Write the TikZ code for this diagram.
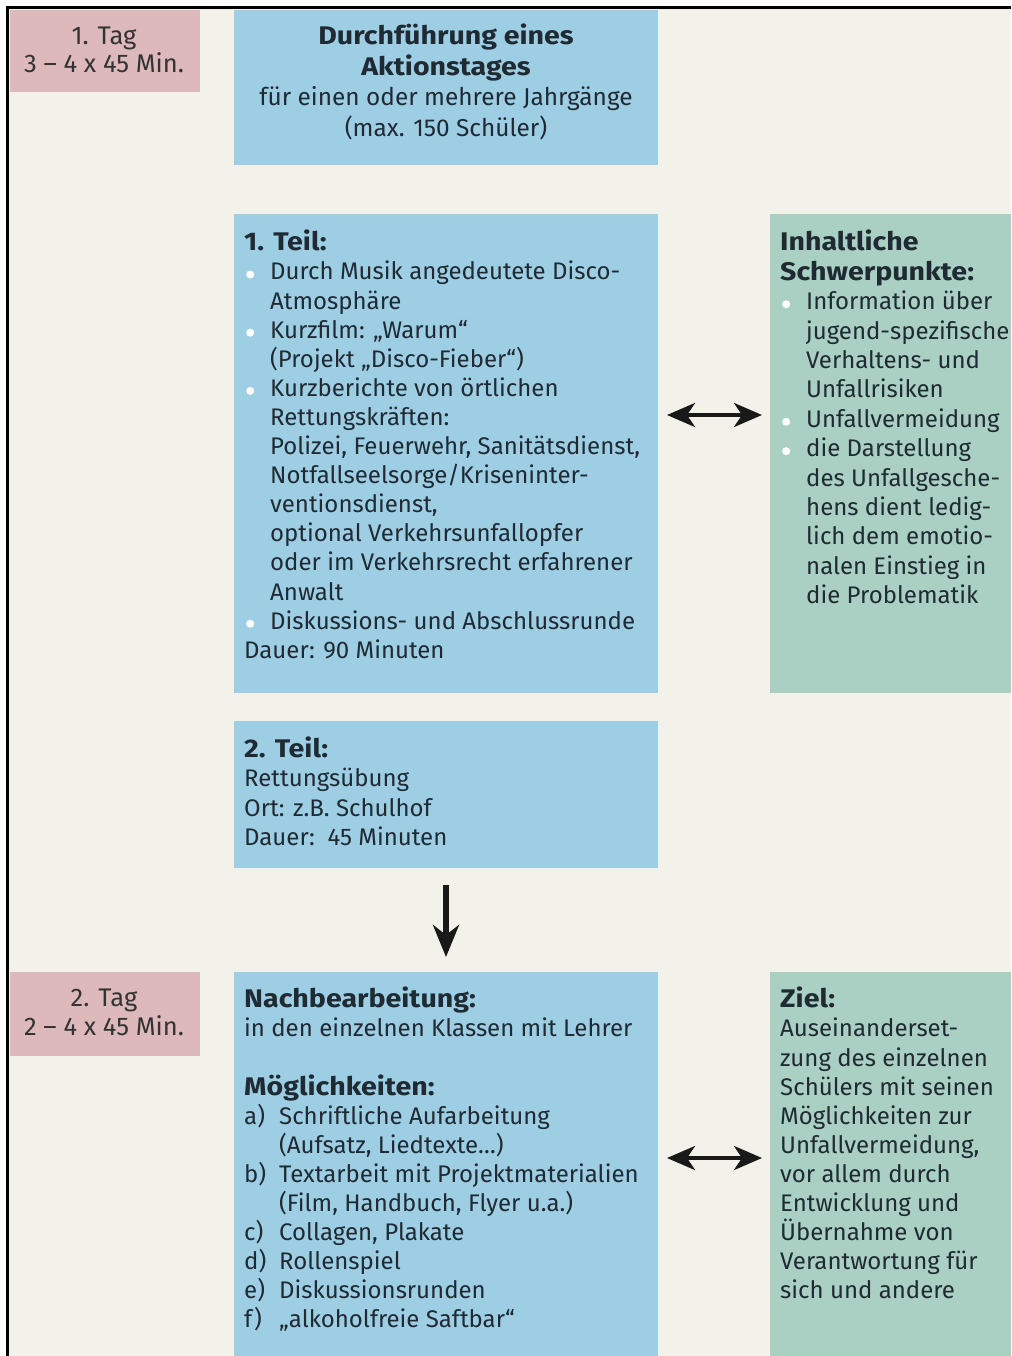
\documentclass[tikz,border=0pt]{standalone}
\usepackage{fontspec}
\setmainfont{Fira Sans}
\newfontfamily\hdfam{Fira Sans}[FakeStretch=1.12]
\usetikzlibrary{arrows.meta}
\definecolor{bgc}{HTML}{F2F1EA}
\definecolor{bluec}{HTML}{9ECEE4}
\definecolor{greenc}{HTML}{AACFC3}
\definecolor{pinkc}{HTML}{DDB9BB}
\definecolor{txtc}{HTML}{1F2A33}
\newcommand{\hd}[1]{{\hdfam\bfseries\fontsize{25.5}{29.1}\selectfont #1}}
\newcommand{\bl}{\makebox[26pt][l]{\hspace{2pt}\tikz[baseline=0pt]\fill[white] (0pt,5.5pt) circle (4pt);}}
\newcommand{\ind}{\hspace*{26pt}}
\newcommand{\lab}[1]{\makebox[35pt][l]{#1}}
\newcommand{\lind}{\hspace*{35pt}}
\newcommand{\st}{\rule{0pt}{20pt}}
\tikzset{
  boxbase/.style={inner sep=0pt, outer sep=0pt, anchor=north west, draw=none},
  bluebox/.style={boxbase, fill=bluec},
  greenbox/.style={boxbase, fill=greenc},
  pinkbox/.style={boxbase, fill=pinkc},
  txtl/.style={inner sep=0pt, anchor=north west, align=left, text=txtc,
    font=\fontsize{24}{29.1}\selectfont},
  txtc/.style={inner sep=0pt, anchor=north, align=center, text=txtc,
    font=\fontsize{24}{29.1}\selectfont},
  dblarrow/.style={{Stealth[length=28pt,width=24pt,inset=8pt]}-{Stealth[length=28pt,width=24pt,inset=8pt]}, line width=4pt, draw=black!90},
  downarrow/.style={-{Stealth[length=32pt,width=26pt,inset=10pt]}, line width=6pt, draw=black!90}
}
\begin{document}
\begin{tikzpicture}[x=1pt,y=-1pt]
\useasboundingbox (0,0) rectangle (1011,1356);
\fill[white] (0,0) rectangle (1011,1356);
\fill[bgc] (9,9) rectangle (1011,1356);
\draw[line width=3pt, black] (7.5,1356) -- (7.5,7.5) -- (1011,7.5);

% boxes
\node[pinkbox, minimum width=190pt, minimum height=82pt] (p1) at (10,10) {};
\node[bluebox, minimum width=424pt, minimum height=155pt] (b1) at (234,10) {};
\node[bluebox, minimum width=424pt, minimum height=479pt] (b2) at (234,214) {};
\node[greenbox, minimum width=241pt, minimum height=479pt] (g1) at (770,214) {};
\node[bluebox, minimum width=424pt, minimum height=147pt] (b3) at (234,721) {};
\node[pinkbox, minimum width=190pt, minimum height=84pt] (p2) at (10,972) {};
\node[bluebox, minimum width=424pt, minimum height=384pt] (b4) at (234,972) {};
\node[greenbox, minimum width=241pt, minimum height=384pt] (g2) at (770,972) {};

% texts
\node[txtc, font=\fontsize{25.5}{28}\selectfont, text=black!80] (tp1) at (104,24) {\st 1. Tag\\3 – 4 x 45 Min.};
\node[txtc, font=\fontsize{24.4}{30.5}\selectfont] (tb1) at (446,24) {\st\hd{Durchführung eines}\\\hd{Aktionstages}\\für einen oder mehrere Jahrgänge\\(max. 150 Schüler)};
\node[txtl] (tb2) at (244,230) {\st\hd{1. Teil:}\\
\bl Durch Musik angedeutete Disco-\\
\ind Atmosphäre\\
\bl Kurzfilm: „Warum“\\
\ind (Projekt „Disco-Fieber“)\\
\bl Kurzberichte von örtlichen\\
\ind Rettungskräften:\\
\ind Polizei, Feuerwehr, Sanitätsdienst,\\
\ind Notfallseelsorge/Kriseninter-\\
\ind ventionsdienst,\\
\ind optional Verkehrsunfallopfer\\
\ind oder im Verkehrsrecht erfahrener\\
\ind Anwalt\\
\bl Diskussions- und Abschlussrunde\\
Dauer: 90 Minuten};
\node[txtl, font=\fontsize{24}{29.4}\selectfont] (tg1) at (780,230) {\st\hd{Inhaltliche}\\
\hd{Schwerpunkte:}\\
\bl Information über\\
\ind jugend-spezifische\\
\ind Verhaltens- und\\
\ind Unfallrisiken\\
\bl Unfallvermeidung\\
\bl die Darstellung\\
\ind des Unfallgesche-\\
\ind hens dient ledig-\\
\ind lich dem emotio-\\
\ind nalen Einstieg in\\
\ind die Problematik};
\node[txtl] (tb3) at (244,737) {\st\hd{2. Teil:}\\
Rettungsübung\\
Ort: z.B. Schulhof\\
Dauer:\ \ 45 Minuten};
\node[txtc, font=\fontsize{25.5}{29}\selectfont, text=black!80] (tp2) at (104,986) {\st 2. Tag\\2 – 4 x 45 Min.};
\node[txtl] (tb4) at (244,987) {\st\hd{Nachbearbeitung:}\\
in den einzelnen Klassen mit Lehrer\\[29.1pt]
\hd{Möglichkeiten:}\\
\lab{a)}Schriftliche Aufarbeitung\\
\lind (Aufsatz, Liedtexte…)\\
\lab{b)}Textarbeit mit Projektmaterialien\\
\lind (Film, Handbuch, Flyer u.a.)\\
\lab{c)}Collagen, Plakate\\
\lab{d)}Rollenspiel\\
\lab{e)}Diskussionsrunden\\
\lab{f)}„alkoholfreie Saftbar“};
\node[txtl] (tg2) at (780,987) {\st\hd{Ziel:}\\
Auseinanderset-\\
zung des einzelnen\\
Schülers mit seinen\\
Möglichkeiten zur\\
Unfallvermeidung,\\
vor allem durch\\
Entwicklung und\\
Übernahme von\\
Verantwortung für\\
sich und andere};

% connectors
\draw[dblarrow, shorten <=9pt, shorten >=8pt] ([yshift=38.5pt]b2.east) -- ([yshift=38.5pt]g1.west);
\draw[dblarrow, shorten <=9pt, shorten >=8pt] ([yshift=6pt]b4.east) -- ([yshift=6pt]g2.west);
\draw[downarrow, shorten <=17pt, shorten >=15pt] (b3.south) -- (b4.north);
\end{tikzpicture}
\end{document}
